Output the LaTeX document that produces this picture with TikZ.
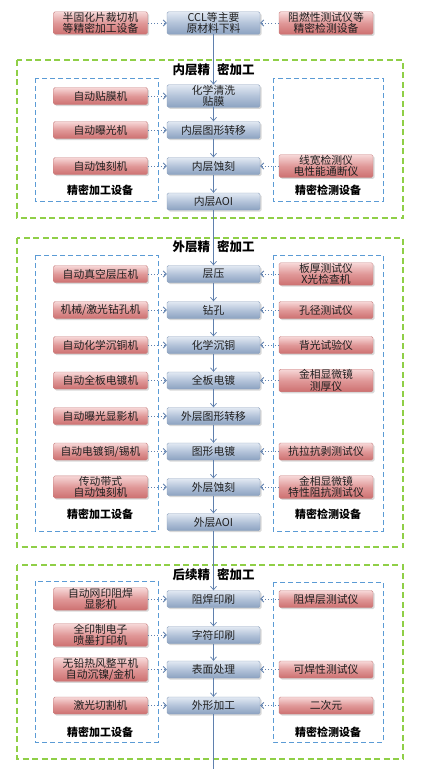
\documentclass[tikz,border=0pt]{standalone}
\usepackage{fontspec}
\newfontfamily\cjk{Noto Sans CJK SC}
\usetikzlibrary{arrows.meta,shadows}
\definecolor{bluetop}{HTML}{E2E9F3}
\definecolor{bluemid}{HTML}{B3C3D9}
\definecolor{bluebot}{HTML}{8CA2C1}
\definecolor{blueedge}{HTML}{8FA3BF}
\definecolor{redtop}{HTML}{F7D8D8}
\definecolor{redmid}{HTML}{E09898}
\definecolor{redbot}{HTML}{CD7070}
\definecolor{rededge}{HTML}{C98383}
\definecolor{grn}{HTML}{8FCF47}
\definecolor{dblue}{HTML}{5B9BD5}
\definecolor{conn}{HTML}{5F80AE}
\definecolor{txt}{HTML}{1F1F1F}
\tikzset{
  boxbase/.style={rectangle, rounded corners=1.5pt, minimum height=17pt, inner xsep=1pt, inner ysep=0.5pt,
    align=center, line width=0.4pt, text=txt,
    font=\cjk\fontsize{10.8}{11.5}\selectfont,
    drop shadow={opacity=0.3, shadow xshift=1.5pt, shadow yshift=-1.5pt}},
  procbox/.style={boxbase, minimum width=93pt, draw=blueedge, top color=bluetop, bottom color=bluebot, middle color=bluemid},
  equipbox/.style={boxbase, minimum width=94pt, draw=rededge, top color=redtop, bottom color=redbot, middle color=redmid},
  section/.style={draw=grn, line width=1.1pt, dash pattern=on 6pt off 3.5pt},
  group/.style={draw=dblue, line width=0.9pt, dash pattern=on 5pt off 3pt},
  title/.style={font=\cjk\bfseries\fontsize{12.5}{14}\selectfont, text=black},
  grouplabel/.style={font=\cjk\bfseries\fontsize{11}{13}\selectfont, text=black},
  mainflow/.style={draw=conn, line width=0.7pt, -{Straight Barb[length=3.5pt,width=6pt]}},
  dotflow/.style={draw=conn, line width=0.8pt, dash pattern=on 1pt off 2.2pt, -{Straight Barb[length=3pt,width=6pt]}},
}
\begin{document}
\begin{tikzpicture}[x=1pt,y=-1pt]
\useasboundingbox (0,0) rectangle (422,769);
\fill[white] (0,0) rectangle (422,769);

% sections
\draw[section] (17,60) rectangle (403,218);
\draw[section] (17,238) rectangle (403,547);
\draw[section] (17,565) rectangle (403,759);
% groups
\draw[group] (35,78) rectangle (158,201);
\draw[group] (273,78) rectangle (383,201);
\draw[group] (35,255) rectangle (158,531);
\draw[group] (273,255) rectangle (383,531);
\draw[group] (35,581) rectangle (158,742);
\draw[group] (273,582) rectangle (383,742);

% titles and labels
\node[title] (t1) at (213.5,70) {内层精\hspace{7pt}密加工};
\node[title] (t2) at (213.5,247) {外层精\hspace{7pt}密加工};
\node[title] (t3) at (213.5,575) {后续精\hspace{7pt}密加工};
\node[grouplabel] (g1l) at (100,190) {精密加工设备};
\node[grouplabel] (g1r) at (328,190) {精密检测设备};
\node[grouplabel] (g2l) at (100,514) {精密加工设备};
\node[grouplabel] (g2r) at (328,514) {精密检测设备};
\node[grouplabel] (g3l) at (100,732) {精密加工设备};
\node[grouplabel] (g3r) at (328,732) {精密检测设备};

% top row
\node[procbox] (c0) at (213.5,23) {CCL等主要\\原材料下料};
\node[equipbox] (l0) at (100.5,23) {半固化片裁切机\\等精密加工设备};
\node[equipbox] (r0) at (326,23) {阻燃性测试仪等\\精密检测设备};

% section 1
\node[procbox] (c11) at (213.5,96) {化学清洗\\贴膜};
\node[procbox] (c12) at (213.5,130) {内层图形转移};
\node[procbox] (c13) at (213.5,166) {内层蚀刻};
\node[procbox] (c14) at (213.5,201.5) {内层AOI};
\node[equipbox] (l11) at (100.5,96) {自动贴膜机};
\node[equipbox] (l12) at (100.5,130) {自动曝光机};
\node[equipbox] (l13) at (100.5,166) {自动蚀刻机};
\node[equipbox] (r13) at (326,166) {线宽检测仪\\电性能通断仪};

% section 2
\node[procbox] (c21) at (213.5,274) {层压};
\node[procbox] (c22) at (213.5,310) {钻孔};
\node[procbox] (c23) at (213.5,345) {化学沉铜};
\node[procbox] (c24) at (213.5,380.5) {全板电镀};
\node[procbox] (c25) at (213.5,416) {外层图形转移};
\node[procbox] (c26) at (213.5,451.5) {图形电镀};
\node[procbox] (c27) at (213.5,487) {外层蚀刻};
\node[procbox] (c28) at (213.5,522) {外层AOI};
\node[equipbox] (l21) at (100.5,274) {自动真空层压机};
\node[equipbox] (l22) at (100.5,310) {机械/激光钻孔机};
\node[equipbox] (l23) at (100.5,345) {自动化学沉铜机};
\node[equipbox] (l24) at (100.5,380.5) {自动全板电镀机};
\node[equipbox] (l25) at (100.5,416) {自动曝光显影机};
\node[equipbox] (l26) at (100.5,451.5) {自动电镀铜/锡机};
\node[equipbox] (l27) at (100.5,487) {传动带式\\自动蚀刻机};
\node[equipbox] (r21) at (326,274) {板厚测试仪\\X光检查机};
\node[equipbox] (r22) at (326,310) {孔径测试仪};
\node[equipbox] (r23) at (326,345) {背光试验仪};
\node[equipbox] (r24) at (326,380.5) {金相显微镜\\测厚仪};
\node[equipbox] (r26) at (326,451.5) {抗拉抗剥测试仪};
\node[equipbox] (r27) at (326,487) {金相显微镜\\特性阻抗测试仪};

% section 3
\node[procbox] (c31) at (213.5,599) {阻焊印刷};
\node[procbox] (c32) at (213.5,635) {字符印刷};
\node[procbox] (c33) at (213.5,669.5) {表面处理};
\node[procbox] (c34) at (213.5,705.5) {外形加工};
\node[equipbox] (l31) at (100.5,599) {自动网印阻焊\\显影机};
\node[equipbox] (l32) at (100.5,635) {全印制电子\\喷墨打印机};
\node[equipbox] (l33) at (100.5,669.5) {无铅热风整平机\\自动沉镍/金机};
\node[equipbox] (l34) at (100.5,705.5) {激光切割机};
\node[equipbox] (r31) at (326,599) {阻焊层测试仪};
\node[equipbox] (r33) at (326,669.5) {可焊性测试仪};
\node[equipbox] (r34) at (326,705.5) {二次元};

\coordinate (bottom) at (213.5,769);

% main flow
\foreach \a/\b in {c0/c11, c11/c12, c12/c13, c13/c14, c14/c21, c21/c22, c22/c23, c23/c24, c24/c25, c25/c26, c26/c27, c27/c28, c28/c31, c31/c32, c32/c33, c33/c34}
  \draw[mainflow] (\a) -- (\b);
\draw[draw=conn, line width=0.7pt] (c34) -- (bottom);

% equipment connectors
\foreach \a/\b in {l0/c0, r0/c0, l11/c11, l12/c12, l13/c13, r13/c13,
  l21/c21, l22/c22, l23/c23, l24/c24, l25/c25, l26/c26, l27/c27,
  r21/c21, r22/c22, r23/c23, r24/c24, r26/c26, r27/c27,
  l31/c31, l32/c32, l33/c33, l34/c34, r31/c31, r33/c33, r34/c34}
  \draw[dotflow] (\a) -- (\b);
\end{tikzpicture}
\end{document}
